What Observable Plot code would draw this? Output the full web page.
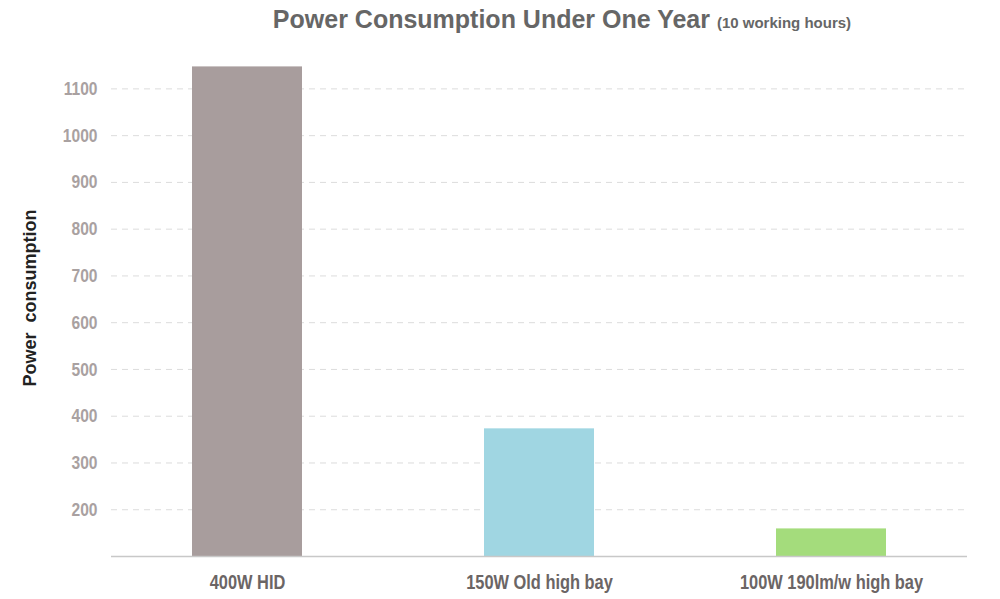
<!DOCTYPE html>
<html><head><meta charset="utf-8">
<script src="https://cdn.jsdelivr.net/npm/d3@7"></script>
<script src="https://cdn.jsdelivr.net/npm/@observablehq/plot@0.6"></script>
<style>
body{margin:0;background:#fff;}
#title{height:50px;box-sizing:border-box;padding-top:5px;padding-left:124px;text-align:center;font-family:"Liberation Sans",Arial,sans-serif;font-weight:bold;color:#666;font-size:25px;white-space:nowrap;}
#title small{font-size:15px;}
</style></head><body>
<div id="title">Power Consumption Under One Year <small>(10 working hours)</small></div>
<div id="chart"></div>
<script>
const categories = ["400W HID", "150W Old high bay", "100W 190lm/w high bay"];
const values = [1147, 373, 159];
const colors = ["#a89d9d", "#a0d6e2", "#a4dc7c"];
const yTicks = [200, 300, 400, 500, 600, 700, 800, 900, 1000, 1100];
const yLabel = "Power\u00a0 consumption";
const data = categories.map((c, i) => ({category: c, value: values[i]}));
const font = "'Liberation Sans', Arial, sans-serif";

const chart = Plot.plot({
  width: 1000, height: 549,
  marginLeft: 111, marginRight: 33, marginTop: 15, marginBottom: 43,
  x: {domain: categories, paddingInner: 0.624, paddingOuter: 0.275, axis: null},
  y: {domain: [100, 1150], axis: null},
  color: {domain: categories, range: colors},
  marks: [
    Plot.ruleY(yTicks, {stroke: "#dcdcdc", strokeDasharray: "6,5", strokeWidth: 1}),
    Plot.barY(data, {x: "category", y1: 100, y2: "value", fill: "category"}),
    Plot.ruleY([100], {stroke: "#c8c8c8", strokeWidth: 1.5}),
    Plot.axisY(yTicks, {tickSize: 0, tickPadding: 14, label: null, tickFormat: d => String(d), fontSize: 19, fontWeight: "bold", fill: "#a9a1a1", fontFamily: font}),
    Plot.axisX({tickSize: 0, tickPadding: 18, label: null, fontSize: 20, fontWeight: "bold", fill: "#6b6565", fontFamily: font}),
    Plot.text([yLabel], {frameAnchor: "left", textAnchor: "middle", dx: -81, dy: -13, rotate: -90, fontSize: 18, fontWeight: "bold", fill: "#222", fontFamily: font})
  ]
});
document.getElementById("chart").appendChild(chart);
// condensed look for tick labels (narrow typeface is not installed)
chart.querySelectorAll('g[aria-label="x-axis tick label"] text, g[aria-label="y-axis tick label"] text').forEach(t => {
  const len = t.getComputedTextLength();
  t.setAttribute("textLength", (len * 0.82).toFixed(1));
  t.setAttribute("lengthAdjust", "spacingAndGlyphs");
});
</script>
</body></html>
